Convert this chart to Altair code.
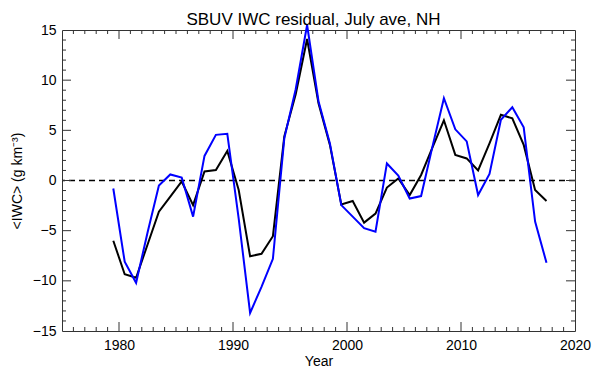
import altair as alt
import pandas as pd

years = [1979.5, 1980.5, 1981.5, 1982.5, 1983.5, 1984.5, 1985.5, 1986.5, 1987.5, 1988.5,
         1989.5, 1990.5, 1991.5, 1992.5, 1993.5, 1994.5, 1995.5, 1996.5, 1997.5, 1998.5,
         1999.5, 2000.5, 2001.5, 2002.5, 2003.5, 2004.5, 2005.5, 2006.5, 2007.5, 2008.5,
         2009.5, 2010.5, 2011.5, 2012.5, 2013.5, 2014.5, 2015.5, 2016.5, 2017.5]
black_vals = [-6.0, -9.35, -9.7, -6.4, -3.1, -1.6, -0.1, -2.45, 0.9, 1.05,
              2.95, -0.95, -7.55, -7.3, -5.55, 4.4, 8.6, 14.1, 7.7, 3.55,
              -2.4, -2.05, -4.2, -3.3, -0.7, 0.2, -1.45, 0.55, 3.3, 6.0,
              2.55, 2.2, 1.0, 3.7, 6.55, 6.2, 3.55, -0.95, -2.05]
blue_vals = [-0.8, -8.1, -10.2, -5.2, -0.5, 0.6, 0.3, -3.6, 2.45, 4.55,
             4.65, -3.8, -13.2, -10.6, -7.8, 4.2, 9.1, 15.5, 7.9, 3.7,
             -2.45, -3.6, -4.75, -5.1, 1.7, 0.5, -1.8, -1.55, 3.4, 8.2,
             5.1, 3.9, -1.45, 0.65, 6.05, 7.3, 5.3, -4.1, -8.2]

x_labels = [1980, 1990, 2000, 2010, 2020]
y_labels = [-15, -10, -5, 0, 5, 10, 15]
x_major = [1980, 1990, 2000, 2010]
x_minor = [1976, 1977, 1978, 1979, 1981, 1982, 1983, 1984, 1985, 1986, 1987, 1988, 1989,
           1991, 1992, 1993, 1994, 1995, 1996, 1997, 1998, 1999, 2001, 2002, 2003, 2004,
           2005, 2006, 2007, 2008, 2009, 2011, 2012, 2013, 2014, 2015, 2016, 2017, 2018, 2019]
y_major = [-10, -5, 0, 5, 10]
y_minor = [-14, -13, -12, -11, -9, -8, -7, -6, -4, -3, -2, -1,
           1, 2, 3, 4, 6, 7, 8, 9, 11, 12, 13, 14]
zero_line = [0]

W, H = 513, 301
FONT = "Liberation Sans"
TICK_COLOR = "#333333"

df = pd.concat([
    pd.DataFrame({"year": years, "iwc": black_vals, "series": "black"}),
    pd.DataFrame({"year": years, "iwc": blue_vals, "series": "blue"}),
])

xscale = alt.Scale(domain=[1975, 2020], nice=False, zero=False)
yscale = alt.Scale(domain=[-15, 15], nice=False, zero=False)

lines = alt.Chart(df).mark_line(strokeWidth=2).encode(
    x=alt.X("year:Q", scale=xscale,
            axis=alt.Axis(values=x_labels, format="d", ticks=False, domain=False, grid=False,
                          labelFontSize=14, labelFont=FONT, labelColor="black", labelPadding=7,
                          title="Year", titleFontSize=14, titleFont=FONT, titleFontWeight="normal",
                          titleColor="black", titlePadding=2, labelFlush=False)),
    y=alt.Y("iwc:Q", scale=yscale,
            axis=alt.Axis(values=y_labels, ticks=False, domain=False, grid=False,
                          labelFontSize=14, labelFont=FONT, labelColor="black", labelPadding=6,
                          title="<IWC> (g km⁻³)", titleFontSize=14, titleFont=FONT,
                          titleFontWeight="normal", titleColor="black", titlePadding=8,
                          labelFlush=False)),
    color=alt.Color("series:N", scale=alt.Scale(domain=["black", "blue"], range=["black", "#0000ff"]),
                    legend=None),
    order=alt.Order("series:N"),
)

zero = alt.Chart(pd.DataFrame({"z": zero_line})).mark_rule(
    color="black", strokeWidth=1.5, strokeDash=[6, 4]).encode(y=alt.Y("z:Q", scale=yscale))

def xticks(vals, length):
    d = pd.DataFrame({"t": vals})
    base = alt.Chart(d).mark_rule(color=TICK_COLOR, strokeWidth=1)
    bottom = base.encode(x=alt.X("t:Q", scale=xscale), y=alt.value(H), y2=alt.value(H - length))
    top = base.encode(x=alt.X("t:Q", scale=xscale), y=alt.value(0), y2=alt.value(length))
    return bottom + top

def yticks(vals, length):
    d = pd.DataFrame({"t": vals})
    base = alt.Chart(d).mark_rule(color=TICK_COLOR, strokeWidth=1)
    left = base.encode(y=alt.Y("t:Q", scale=yscale), x=alt.value(0), x2=alt.value(length))
    right = base.encode(y=alt.Y("t:Q", scale=yscale), x=alt.value(W), x2=alt.value(W - length))
    return left + right

chart = alt.layer(
    zero,
    xticks(x_major, 9), xticks(x_minor, 4),
    yticks(y_major, 9), yticks(y_minor, 4),
    lines,
).properties(
    width=W, height=H,
    title=alt.TitleParams("SBUV IWC residual, July ave, NH", fontSize=17, font=FONT,
                          fontWeight="normal", color="black", anchor="middle", offset=0,
                          dy=8, dx=-5),
    autosize=alt.AutoSizeParams(type="none"),
    padding={"left": 54, "top": 22, "right": 17, "bottom": 37},
).configure_view(stroke=TICK_COLOR, strokeWidth=1)

chart.save("out.html", embed_options={"renderer": "svg", "actions": False})
